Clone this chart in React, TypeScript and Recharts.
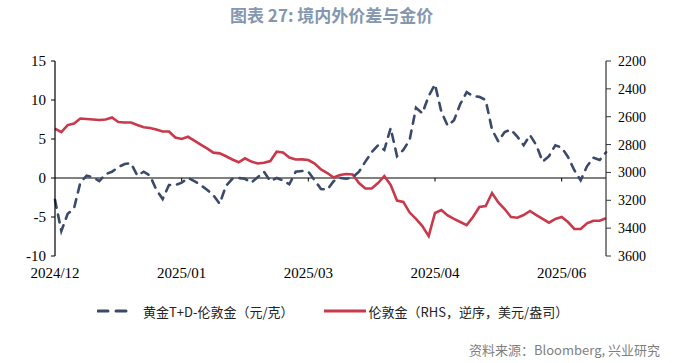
import {
  LineChart,
  Line,
  XAxis,
  YAxis,
  ReferenceLine,
} from "recharts";

// tick labels for the x axis, placed every 20 trading days
const xTickIndex = [0, 20, 40, 60, 80];
const xTickLabels = ["2024/12", "2025/01", "2025/03", "2025/04", "2025/06"];

const leftTicks = [-10, -5, 0, 5, 10, 15];
const rightTicks = [2200, 2400, 2600, 2800, 3000, 3200, 3400, 3600];

// 黄金T+D-伦敦金 (元/克), left axis
const spread = [
  -2.8, -6.8, -4.6, -3.9, -0.6, 0.3, 0.1, -0.4, 0.5, 0.8,
  1.4, 1.8, 1.9, 0.3, 0.8, 0.3, -1.5, -2.7, -0.9, -0.9,
  -0.6, 0, -0.4, -0.9, -1.5, -2.2, -3.3, -1.0, -0.1, 0,
  -0.1, -0.6, 0.1, 0.8, -0.4, 0, -0.3, -0.8, 0.8, 0.9,
  0.8, -0.3, -1.4, -1.5, -0.4, 0, -0.1, 0.1, 0.8, 2.1,
  3.3, 4.2, 3.6, 6.4, 2.8, 3.6, 4.9, 9.0, 8.3, 10.5,
  12.0, 8.5, 6.7, 7.4, 9.5, 11.0, 10.5, 10.4, 10.0, 6.2,
  4.7, 5.9, 6.2, 5.3, 4.2, 5.5, 4.2, 2.1, 2.8, 4.2,
  3.9, 2.7, 1.0, -0.3, 1.5, 2.6, 2.3, 3.3,
];

// 伦敦金 (美元/盎司), right axis, reversed
const londonGold = [
  2685, 2710, 2660, 2649, 2613, 2616, 2620, 2624, 2620, 2606,
  2638, 2642, 2642, 2660, 2676, 2681, 2692, 2706, 2706, 2749,
  2760, 2744, 2771, 2800, 2828, 2858, 2863, 2884, 2907, 2927,
  2899, 2922, 2936, 2931, 2918, 2851, 2857, 2893, 2907, 2906,
  2911, 2936, 2979, 3004, 3036, 3019, 3011, 3015, 3076, 3115,
  3115, 3076, 3026, 3090, 3202, 3212, 3288, 3334, 3385, 3457,
  3291, 3270, 3309, 3334, 3356, 3378, 3320, 3248, 3241, 3148,
  3216, 3263, 3320, 3325, 3306, 3277, 3306, 3334, 3361, 3334,
  3320, 3356, 3406, 3406, 3365, 3347, 3347, 3329,
];

const data = spread.map((s, i) => ({ i, spread: s, gold: londonGold[i] }));

const NAVY = "#3b4a6b";
const RED = "#c9394b";
const cjk = "'Noto Sans CJK SC', 'Noto Sans', sans-serif";
const serif = "'Liberation Serif', 'Times New Roman', serif";

const App = () => {
  return (
    <div
      style={{
        position: "absolute",
        left: 0,
        top: 0,
        width: 694,
        height: 363,
        background: "#fff",
      }}
    >
      <div
        style={{
          position: "absolute",
          left: 230,
          top: 6,
          fontFamily: cjk,
          fontWeight: 700,
          fontSize: 17,
          lineHeight: "18px",
          color: "#8497b0",
          whiteSpace: "nowrap",
        }}
      >
        图表 27: 境内外价差与金价
      </div>

      <LineChart
        width={694}
        height={363}
        data={data}
        margin={{ top: 61, right: 0, left: 0, bottom: 77 }}
      >
        <XAxis
          dataKey="i"
          type="number"
          domain={[0, 87]}
          ticks={xTickIndex}
          tickFormatter={(v) => xTickLabels[xTickIndex.indexOf(v)] ?? ""}
          axisLine={false}
          tickLine={false}
          tickSize={0}
          tickMargin={11}
          height={30}
          tick={{ fontFamily: serif, fontSize: 15, fill: "#000" }}
        />
        <YAxis
          yAxisId="left"
          domain={[-10, 15]}
          ticks={leftTicks}
          width={55}
          tickSize={4}
          tickMargin={5}
          axisLine={{ stroke: "#000", strokeWidth: 1.2 }}
          tickLine={{ stroke: "#000" }}
          tick={{ fontFamily: serif, fontSize: 15, fill: "#000" }}
        />
        <YAxis
          yAxisId="right"
          orientation="right"
          reversed
          domain={[2200, 3600]}
          ticks={rightTicks}
          width={88}
          tickSize={5}
          tickMargin={7}
          axisLine={{ stroke: "#333", strokeWidth: 1.2 }}
          tickLine={{ stroke: "#333" }}
          tick={{ fontFamily: serif, fontSize: 14, fill: "#000", textAnchor: "start" }}
        />
        <ReferenceLine yAxisId="left" y={0} stroke="#808080" strokeWidth={2} />
        {xTickIndex.slice(1).map((t) => (
          <ReferenceLine
            key={t}
            yAxisId="left"
            segment={[
              { x: t, y: 0 },
              { x: t, y: -0.45 },
            ]}
            stroke="#000"
            strokeWidth={1}
          />
        ))}
        <Line
          yAxisId="right"
          dataKey="gold"
          type="linear"
          stroke={RED}
          strokeWidth={2.6}
          dot={false}
          isAnimationActive={false}
        />
        <Line
          yAxisId="left"
          dataKey="spread"
          type="linear"
          stroke={NAVY}
          strokeWidth={2.6}
          strokeDasharray="8 7"
          strokeLinecap="round"
          dot={false}
          isAnimationActive={false}
        />
      </LineChart>

      {/* legend */}
      <div
        style={{
          position: "absolute",
          left: 97,
          top: 302,
          height: 18,
          display: "flex",
          alignItems: "center",
          fontFamily: cjk,
          fontSize: 13,
          color: "#222",
          whiteSpace: "nowrap",
        }}
      >
        <svg width={32} height={6} style={{ marginRight: 14 }}>
          <line x1={1} y1={3} x2={11} y2={3} stroke={NAVY} strokeWidth={3} strokeLinecap="round" />
          <line x1={19} y1={3} x2={29} y2={3} stroke={NAVY} strokeWidth={3} strokeLinecap="round" />
        </svg>
        <span>黄金T+D-伦敦金（元/克）</span>
        <svg width={42} height={6} style={{ marginLeft: 30, marginRight: 3 }}>
          <line x1={0} y1={3} x2={42} y2={3} stroke={RED} strokeWidth={3} />
        </svg>
        <span>伦敦金（RHS，逆序，美元/盎司）</span>
      </div>

      <div
        style={{
          position: "absolute",
          right: 34,
          top: 341,
          fontFamily: cjk,
          fontSize: 13,
          lineHeight: "18px",
          color: "#7f7f7f",
          whiteSpace: "nowrap",
        }}
      >
        资料来源：Bloomberg, 兴业研究
      </div>
    </div>
  );
};

export default App;
